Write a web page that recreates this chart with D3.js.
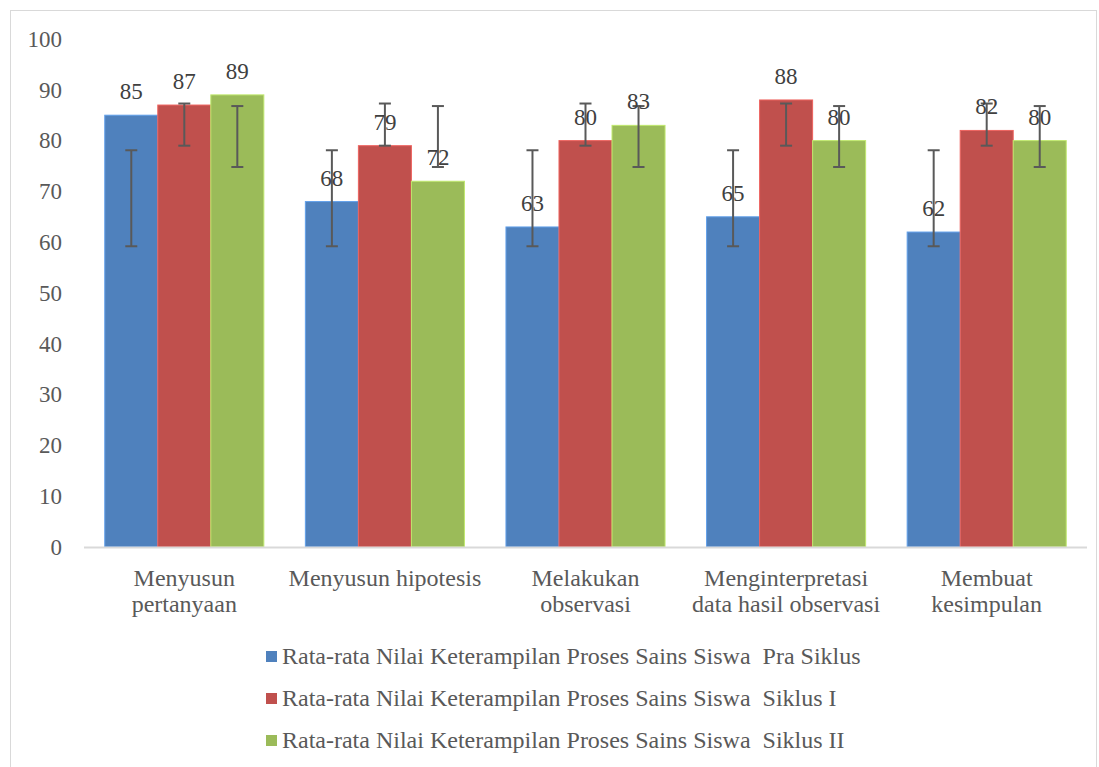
<!DOCTYPE html>
<html>
<head>
<meta charset="utf-8">
<script src="https://cdn.jsdelivr.net/npm/d3@7"></script>
<style>
  body { margin: 0; background: #fff; }
  svg text { font-family: "Liberation Serif", "Times New Roman", "DejaVu Serif", serif; }
</style>
</head>
<body>
<div id="chart"></div>
<script>
var width = 1099,
	height = 767;

// data
var categories = [
  ["Menyusun", "pertanyaan"],
  ["Menyusun hipotesis"],
  ["Melakukan", "observasi"],
  ["Menginterpretasi", "data hasil observasi"],
  ["Membuat", "kesimpulan"]
];
var seriesNames = [
  "Rata-rata Nilai Keterampilan Proses Sains Siswa  Pra Siklus",
  "Rata-rata Nilai Keterampilan Proses Sains Siswa  Siklus I",
  "Rata-rata Nilai Keterampilan Proses Sains Siswa  Siklus II"
];
var praSiklus = [85, 68, 63, 65, 62];
var siklus1 = [87, 79, 80, 88, 82];
var siklus2 = [89, 72, 83, 80, 80];
// error bar ranges (low, high) per series, same for every category
var errLow = [59.2, 79.0, 74.8];
var errHigh = [78.1, 87.3, 86.8];
var yTicks = [0, 10, 20, 30, 40, 50, 60, 70, 80, 90, 100];
var colors = ["#4f81bd", "#c0504d", "#9bbb59"];

var series = [praSiklus, siklus1, siklus2];

var svg = d3.select("#chart").append("svg").attr("width", width).attr("height", height);

// outer border
svg.append("rect")
  .attr("x", 10.5).attr("y", 10.5)
  .attr("width", 1086).attr("height", 770)
  .attr("fill", "none").attr("stroke", "#d9d9d9").attr("stroke-width", 1);

var x0 = d3.scaleBand().domain(d3.range(categories.length)).range([84, 1087]).paddingInner(0.207).paddingOuter(0.1035);
var x1 = d3.scaleBand().domain(d3.range(series.length)).range([0, x0.bandwidth()]);
var y = d3.scaleLinear().domain([0, 100]).range([547, 39]);

// y axis labels
var yAxis = svg.append("g")
  .call(d3.axisLeft(y).tickValues(yTicks).tickSize(0).tickPadding(0))
  .attr("transform", "translate(62,0)")
  .attr("font-family", null);
yAxis.select(".domain").remove();
yAxis.selectAll("text")
  .attr("font-size", 23)
  .attr("fill", "#595959")
  .attr("dy", "0.32em");

// bars
var groups = svg.append("g").selectAll("g")
  .data(categories)
  .enter().append("g")
  .attr("transform", function(d, i) { return "translate(" + x0(i) + ",0)"; });

groups.selectAll("rect")
  .data(function(d, i) { return series.map(function(s, k) { return {k: k, v: s[i]}; }); })
  .enter().append("rect")
  .attr("x", function(d) { return x1(d.k); })
  .attr("y", function(d) { return y(d.v); })
  .attr("width", x1.bandwidth())
  .attr("height", function(d) { return y(0) - y(d.v); })
  .attr("fill", function(d) { return colors[d.k]; })
  .attr("stroke", function(d) { return d3.color(colors[d.k]).brighter(0.6); })
  .attr("stroke-width", 1);

// x axis line
svg.append("line")
  .attr("x1", 84).attr("x2", 1087)
  .attr("y1", y(0) + 0.5).attr("y2", y(0) + 0.5)
  .attr("stroke", "#d9d9d9").attr("stroke-width", 2);

// error bars
var err = groups.selectAll("g.err")
  .data(function() { return series.map(function(s, k) { return k; }); })
  .enter().append("g")
  .attr("class", "err")
  .attr("stroke", "#595959")
  .attr("stroke-width", 2);
err.append("line")
  .attr("x1", function(k) { return x1(k) + x1.bandwidth() / 2; })
  .attr("x2", function(k) { return x1(k) + x1.bandwidth() / 2; })
  .attr("y1", function(k) { return y(errLow[k]); })
  .attr("y2", function(k) { return y(errHigh[k]); });
[errLow, errHigh].forEach(function(arr) {
  err.append("line")
    .attr("x1", function(k) { return x1(k) + x1.bandwidth() / 2 - 6; })
    .attr("x2", function(k) { return x1(k) + x1.bandwidth() / 2 + 6; })
    .attr("y1", function(k) { return y(arr[k]); })
    .attr("y2", function(k) { return y(arr[k]); });
});

// data labels
groups.selectAll("text.val")
  .data(function(d, i) { return series.map(function(s, k) { return {k: k, v: s[i]}; }); })
  .enter().append("text")
  .attr("class", "val")
  .attr("x", function(d) { return x1(d.k) + x1.bandwidth() / 2; })
  .attr("y", function(d) { return y(d.v) - 16; })
  .attr("text-anchor", "middle")
  .attr("font-size", 23)
  .attr("fill", "#404040")
  .text(function(d) { return d.v; });

// category labels
groups.append("text")
  .attr("x", x0.bandwidth() / 2)
  .attr("y", 586)
  .attr("text-anchor", "middle")
  .attr("font-size", 24)
  .attr("fill", "#595959")
  .selectAll("tspan")
  .data(function(d) { return d; })
  .enter().append("tspan")
  .attr("x", x0.bandwidth() / 2)
  .attr("dy", function(d, i) { return i === 0 ? 0 : 26; })
  .text(function(d) { return d; });

// legend
var legend = svg.append("g").selectAll("g")
  .data(seriesNames)
  .enter().append("g")
  .attr("transform", function(d, i) { return "translate(266," + (656 + i * 42) + ")"; });
legend.append("rect")
  .attr("x", 0).attr("y", -5)
  .attr("width", 11).attr("height", 11)
  .attr("fill", function(d, i) { return colors[i]; });
legend.append("text")
  .attr("x", 16)
  .attr("dy", "0.35em")
  .attr("font-size", 24)
  .attr("fill", "#595959")
  .style("white-space", "pre")
  .text(function(d) { return d; });
</script>
</body>
</html>
